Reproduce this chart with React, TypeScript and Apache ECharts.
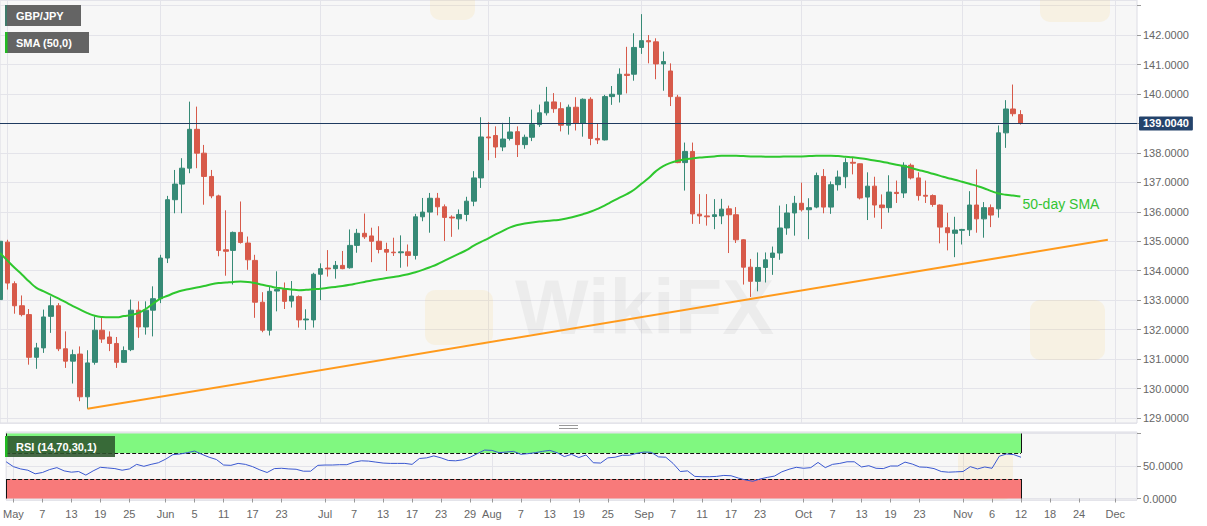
import React, { useEffect, useRef } from 'react';
import * as echarts from 'echarts';

// ---- axis / category definitions ----
const START_DATE = '2020-04-30';
const END_DATE = '2020-12-04';

const TICK_DATES = ['2020-05-01','2020-05-07','2020-05-13','2020-05-19','2020-05-25','2020-06-01','2020-06-05','2020-06-11','2020-06-17','2020-06-23','2020-07-01','2020-07-07','2020-07-13','2020-07-17','2020-07-23','2020-07-29','2020-08-03','2020-08-07','2020-08-13','2020-08-19','2020-08-25','2020-09-01','2020-09-07','2020-09-11','2020-09-17','2020-09-23','2020-10-01','2020-10-07','2020-10-13','2020-10-19','2020-10-23','2020-11-02','2020-11-06','2020-11-12','2020-11-18','2020-11-24','2020-12-01'];
const TICK_LABELS = ['May','7','13','19','25','Jun','5','11','17','23','Jul','7','13','17','23','29','Aug','7','13','19','25','Sep','7','11','17','23','Oct','7','13','19','23','Nov','6','12','18','24','Dec'];
const MONTH_LINES = ['2020-05-01','2020-06-01','2020-07-01','2020-08-03','2020-09-01','2020-10-01','2020-11-02','2020-12-01'];

// ---- GBP/JPY daily candles from 2020-04-30: [open, close, low, high] ----
const OHLC: number[][] = [
  [133.02,135.00,132.68,135.45],[134.97,133.58,133.36,135.05],[133.56,132.81,132.54,133.64],[132.81,132.51,132.45,133.16],
  [132.51,131.06,130.81,132.70],[131.06,131.38,130.67,131.55],[131.38,132.43,131.21,132.68],[132.45,132.81,131.89,133.13],
  [132.81,131.35,131.27,132.90],[131.35,130.93,130.70,131.94],[130.93,131.15,130.17,131.32],[131.17,129.72,129.57,131.43],
  [129.72,130.87,129.31,131.30],[130.89,131.98,130.81,132.45],[131.98,131.68,131.55,132.40],[131.75,131.53,131.27,131.94],
  [131.53,130.89,130.70,131.75],[130.89,131.29,130.87,131.43],[131.32,132.66,131.27,133.02],[132.66,132.09,131.72,132.96],
  [132.09,132.66,131.83,132.96],[132.66,133.05,131.77,133.47],[133.05,134.43,132.90,134.54],[134.43,136.41,134.26,136.54],
  [136.41,136.94,135.95,137.42],[136.94,137.48,135.95,137.82],[137.48,138.80,137.31,139.74],[138.80,137.99,137.48,139.57],
  [137.99,137.20,136.24,138.27],[137.20,136.54,136.46,137.42],[136.54,134.69,134.49,136.58],[134.71,134.66,133.83,136.05],
  [134.69,135.30,133.53,135.33],[135.30,134.96,134.92,136.35],[134.94,134.37,134.03,135.16],[134.35,132.93,132.40,134.54],
  [132.93,131.98,131.91,133.27],[131.98,133.30,131.80,133.47],[133.31,133.36,132.62,133.98],[133.36,132.96,132.70,133.60],
  [132.97,133.14,132.75,133.65],[133.12,132.33,132.07,133.16],[132.33,132.36,131.99,132.69],[132.33,133.88,132.07,133.93],
  [133.88,134.07,133.00,134.25],[134.09,134.06,133.80,134.70],[134.07,134.18,133.73,134.33],[134.18,134.07,134.05,134.67],
  [134.10,134.86,134.07,135.40],[134.86,135.27,134.61,135.42],[135.27,135.15,135.08,135.94],[135.18,135.00,134.29,135.46],
  [135.00,134.72,134.59,135.51],[134.72,134.63,133.99,134.95],[134.63,134.61,134.50,135.12],[134.61,134.64,134.10,135.20],
  [134.64,134.52,134.14,134.89],[134.52,135.83,134.38,135.93],[135.83,135.99,135.68,136.47],[135.99,136.46,135.29,136.64],
  [136.46,136.17,135.88,136.64],[136.17,135.81,135.01,136.25],[135.82,135.79,135.15,135.88],[135.76,135.91,135.40,136.08],
  [135.91,136.36,135.68,136.51],[136.36,137.15,136.19,137.38],[137.15,138.54,136.81,139.21],[138.54,138.51,137.75,139.04],
  [138.59,138.20,137.83,138.90],[138.20,138.47,138.06,139.02],[138.49,138.71,138.42,139.22],[138.72,138.28,137.86,138.90],
  [138.28,138.53,138.14,138.62],[138.53,138.96,138.40,139.47],[138.96,139.36,138.88,139.64],[139.36,139.73,139.27,140.24],
  [139.73,139.50,139.36,140.03],[139.50,138.94,138.73,139.72],[138.94,139.55,138.62,139.64],[139.55,139.00,138.76,139.89],
  [139.00,139.82,138.55,139.85],[139.82,138.49,138.26,139.89],[138.49,138.44,138.30,138.98],[138.44,139.91,138.42,139.97],
  [139.91,139.99,139.63,140.27],[139.99,140.67,139.71,140.87],[140.67,140.63,140.02,141.60],[140.67,141.58,140.45,142.06],
  [141.58,141.81,141.36,142.71],[141.81,141.77,141.04,142.00],[141.77,141.02,140.50,141.89],[141.02,141.10,140.11,141.44],
  [140.78,139.91,139.59,141.04],[139.89,137.67,137.65,139.97],[137.67,138.05,136.72,138.35],[138.05,135.93,135.59,138.35],
  [135.92,135.86,135.59,136.60],[135.86,135.83,135.53,136.60],[135.84,135.90,135.41,136.43],[135.86,136.09,135.58,136.44],
  [136.10,135.90,134.60,136.21],[135.90,135.05,134.94,136.16],[135.05,134.12,133.53,135.07],[134.12,133.64,133.11,134.40],
  [133.64,134.11,133.30,134.62],[134.11,134.37,133.60,134.62],[134.45,134.60,133.86,134.82],[134.60,135.45,134.37,136.21],
  [135.45,135.96,135.22,136.26],[135.96,136.29,135.19,136.54],[136.29,136.07,136.01,136.99],[136.07,136.14,135.07,136.46],
  [136.16,137.23,136.12,137.33],[137.20,136.16,135.95,137.45],[136.16,136.92,135.93,137.03],[136.92,137.18,136.72,137.40],
  [137.19,137.67,136.80,137.82],[137.68,137.65,137.27,137.86],[137.63,136.47,136.42,137.64],[136.50,136.87,135.72,137.34],
  [136.87,136.23,135.80,137.19],[136.23,136.14,135.42,136.59],[136.14,136.67,135.97,137.24],[136.66,136.62,136.30,137.06],
  [136.64,137.58,136.47,137.68],[137.58,137.15,137.10,137.64],[137.15,136.55,136.38,137.34],[136.56,136.53,136.30,137.06],
  [136.55,136.25,136.17,136.59],[136.23,135.48,134.93,136.25],[135.46,135.29,134.69,135.97],[135.27,135.38,134.46,135.83],
  [135.37,135.40,134.89,135.42],[135.39,136.23,135.18,136.70],[136.23,135.76,135.29,137.44],[135.76,136.14,135.12,136.33],
  [136.14,135.89,135.48,136.25],[136.10,138.68,135.80,138.93],[138.68,139.49,138.17,139.79],[139.49,139.33,139.24,140.32],
  [139.30,139.004,138.96,139.45]
];

const LAST_PRICE = 139.004;

// ---- 50-day SMA ----
const SMA50 = [
  134.60,134.35,134.10,133.87,133.63,133.42,133.30,133.18,133.06,132.93,132.80,132.68,132.56,132.47,132.43,132.42,
  132.42,132.46,132.50,132.57,132.70,132.88,133.05,133.15,133.25,133.33,133.38,133.43,133.48,133.54,133.58,133.60,
  133.62,133.63,133.62,133.58,133.52,133.47,133.42,133.39,133.36,133.34,133.35,133.37,133.39,133.42,133.45,133.48,
  133.52,133.57,133.62,133.67,133.71,133.75,133.79,133.83,133.88,133.95,134.03,134.12,134.22,134.34,134.46,134.58,
  134.70,134.85,134.98,135.10,135.23,135.35,135.47,135.55,135.60,135.64,135.67,135.69,135.71,135.74,135.79,135.85,
  135.92,136.00,136.10,136.22,136.35,136.48,136.60,136.75,136.95,137.15,137.38,137.55,137.66,137.73,137.78,137.81,
  137.84,137.86,137.88,137.90,137.90,137.90,137.89,137.88,137.88,137.87,137.87,137.87,137.88,137.88,137.88,137.89,
  137.90,137.90,137.90,137.89,137.87,137.85,137.82,137.78,137.74,137.70,137.65,137.60,137.55,137.49,137.42,137.36,
  137.29,137.22,137.15,137.09,137.02,136.95,136.88,136.80,136.70,136.62,136.58,136.55,136.52
];

// ---- RSI(14) ----
const RSI14 = [
  56.5,49,45.5,43.5,38,40,44.5,47.5,42.5,40.5,41.5,36,42.5,48,47,46,
  43.5,45.5,52.5,49.5,52.5,55,60.5,67.5,68.5,70.5,73,68,63.5,60,51.5,51,
  54,52.5,49,44,40,46,46.5,45.5,45,42,42,51,51.5,51.5,52,52,
  56,58,57.5,56,54.5,54,54,54,52.5,61.5,62.5,65.5,62.5,58.5,58,59.5,
  63.5,69,74.5,74,70.5,71.5,72.5,68,69,70.5,72.5,74,70.5,64.5,68,63,
  67,55,54.5,62.5,63.5,66.5,66.5,69.5,71.5,71,64,63.5,54,41.5,42.5,34,
  33.5,33.5,34,35.5,35,31.5,28.5,26.5,30,32.5,34.5,41,45,48,46.5,47.5,
  55.5,47.5,52.5,54,56.5,56.5,48.5,50.5,46.5,46,50,50,56,53,48.5,48,
  46,41.5,40.5,41,41.5,49,45.5,48.5,46.5,65,68.5,67.5,63.5
];
const RSI_UPPER = 70;
const RSI_LOWER = 30;

// ---- ascending support trend line: [date, price] ----
const TREND = [['2020-05-18', 129.31], ['2020-11-30', 135.05]];

function weekdayCategories(start: string, end: string): string[] {
  const out: string[] = [];
  const d = new Date(start + 'T00:00:00Z');
  const e = new Date(end + 'T00:00:00Z');
  while (d.getTime() <= e.getTime()) {
    const wd = d.getUTCDay();
    if (wd !== 0 && wd !== 6) out.push(d.toISOString().slice(0, 10));
    d.setUTCDate(d.getUTCDate() + 1);
  }
  return out;
}

const FONT = '"Liberation Sans", Arial, sans-serif';

export default function App() {
  const ref = useRef<HTMLDivElement>(null);
  useEffect(() => {
    if (!ref.current) return;
    const chart = echarts.init(ref.current, null, { renderer: 'svg' });
    const cats = weekdayCategories(START_DATE, END_DATE);
    const lastDate = cats[OHLC.length - 1];
    const firstDate = cats[0];
    const isTick = (_i: number, v: string) => TICK_DATES.indexOf(v) >= 0;
    const isMonth = (_i: number, v: string) => MONTH_LINES.indexOf(v) >= 0;
    const gridLine = { show: true, interval: isMonth, lineStyle: { color: '#e4e4ea', width: 1 } };

    const wm = (x: number, y: number) => ({
      type: 'text', z: 1, silent: true,
      style: { text: 'WikiFX', x, y, fill: 'rgba(0,0,0,0.045)', font: 'bold 78px ' + FONT },
    });
    const logo = (x: number, y: number, w: number, h: number) => ({
      type: 'rect', z: 1, silent: true,
      shape: { x, y, width: w, height: h, r: 10 },
      style: { fill: 'rgba(250,200,90,0.13)' },
    });

    const option: any = {
      animation: false,
      backgroundColor: '#ffffff',
      textStyle: { fontFamily: FONT },
      grid: [
        { left: 0, top: 0, width: 1137, height: 423, show: true, backgroundColor: '#f7f7f7', borderColor: '#dcdce4', borderWidth: 1 },
        { left: 0, top: 432, width: 1137, height: 68, show: true, backgroundColor: '#f7f7f7', borderColor: '#dcdce4', borderWidth: 1 },
      ],
      xAxis: [
        {
          type: 'category', gridIndex: 0, data: cats, boundaryGap: false,
          axisLine: { show: false }, axisTick: { show: false }, axisLabel: { show: false },
          splitLine: gridLine,
        },
        {
          type: 'category', gridIndex: 1, data: cats, boundaryGap: false,
          axisLine: { show: false },
          axisTick: { show: true, interval: isTick, length: 4, lineStyle: { color: '#999' } },
          axisLabel: {
            show: true, interval: isTick, color: '#666', fontSize: 11, margin: 8,
            formatter: (v: string) => { const k = TICK_DATES.indexOf(v); return k >= 0 ? TICK_LABELS[k] : ''; },
          },
          splitLine: gridLine,
        },
      ],
      yAxis: [
        {
          type: 'value', gridIndex: 0, position: 'right', min: 128.83, max: 143.19, splitNumber: 14, scale: true,
          axisLine: { show: false },
          axisTick: { show: true, length: 4, lineStyle: { color: '#999' } },
          axisLabel: {
            color: '#666', fontSize: 11, margin: 6, showMinLabel: false, showMaxLabel: false,
            formatter: (v: number) => (Math.abs(v - 139) < 1e-6 || v > 142.5 ? '' : v.toFixed(4)),
          },
          splitLine: { show: true, lineStyle: { color: '#e4e4ea' } },
        },
        {
          type: 'value', gridIndex: 1, position: 'right', min: -2.3, max: 102.3, splitNumber: 2,
          axisLine: { show: false },
          axisTick: { show: true, length: 4, lineStyle: { color: '#999' } },
          axisLabel: {
            color: '#666', fontSize: 11, margin: 6, showMinLabel: false, showMaxLabel: false,
            formatter: (v: number) => (v === 0 || v === 50 ? v.toFixed(4) : ''),
          },
          splitLine: { show: true, lineStyle: { color: '#e4e4ea' } },
        },
      ],
      series: [
        {
          name: 'GBP/JPY', type: 'candlestick', xAxisIndex: 0, yAxisIndex: 0, data: OHLC, barWidth: 5,
          itemStyle: { color: '#368a76', color0: '#d75a4a', borderColor: '#368a76', borderColor0: '#d75a4a', borderWidth: 1 },
          markLine: {
            symbol: 'none', silent: true, animation: false,
            lineStyle: { color: '#1f3b60', width: 1, type: 'solid' },
            label: {
              show: true, position: 'end', distance: 2, formatter: LAST_PRICE.toFixed(4),
              color: '#fff', fontWeight: 'bold', fontSize: 11, backgroundColor: '#24436b',
              padding: [2, 4, 1, 4], borderRadius: 1,
            },
            data: [{ yAxis: LAST_PRICE }],
          },
          z: 3,
        },
        {
          name: 'SMA (50,0)', type: 'line', xAxisIndex: 0, yAxisIndex: 0, data: SMA50,
          showSymbol: false, smooth: true, lineStyle: { color: '#2ec72e', width: 2 },
          endLabel: { show: true, formatter: '50-day SMA', color: '#33c433', fontSize: 14, distance: 2, offset: [0, 8] },
          z: 4,
        },
        {
          name: 'trend', type: 'line', xAxisIndex: 0, yAxisIndex: 0, data: TREND,
          showSymbol: false, lineStyle: { color: '#ff9a1c', width: 2 }, z: 4,
        },
        {
          name: 'RSI', type: 'line', xAxisIndex: 1, yAxisIndex: 1, data: RSI14,
          showSymbol: false, lineStyle: { color: '#3a58d0', width: 1 }, z: 5,
          markArea: {
            silent: true,
            data: [
              [{ xAxis: firstDate, yAxis: RSI_UPPER, itemStyle: { color: '#80f880' } }, { xAxis: lastDate, yAxis: 100 }],
              [{ xAxis: firstDate, yAxis: 0, itemStyle: { color: '#f87a7a' } }, { xAxis: lastDate, yAxis: RSI_LOWER }],
            ],
          },
          markLine: {
            symbol: 'none', silent: true, label: { show: false },
            lineStyle: { color: '#111', width: 1, type: 'solid' },
            data: [
              [{ coord: [firstDate, RSI_UPPER], lineStyle: { type: 'dashed', color: '#111' } }, { coord: [lastDate, RSI_UPPER] }],
              [{ coord: [firstDate, RSI_LOWER], lineStyle: { type: 'dashed', color: '#111' } }, { coord: [lastDate, RSI_LOWER] }],
              [{ coord: [lastDate, RSI_UPPER] }, { coord: [lastDate, 100] }],
              [{ coord: [lastDate, 0] }, { coord: [lastDate, RSI_LOWER] }],
              [{ coord: [firstDate, RSI_UPPER] }, { coord: [firstDate, 100] }],
              [{ coord: [firstDate, 0] }, { coord: [firstDate, RSI_LOWER] }],
            ],
          },
        },
      ],
      graphic: [
        wm(515, 268),
        logo(425, 290, 68, 55), logo(1030, 300, 75, 60), logo(430, -30, 45, 50), logo(1040, -30, 70, 52), logo(958, 445, 55, 55),
        // legend boxes
        { type: 'rect', z: 100, shape: { x: 5, y: 5, width: 76, height: 21 }, style: { fill: '#646464' } },
        { type: 'rect', z: 101, shape: { x: 5, y: 5, width: 2, height: 21 }, style: { fill: '#3f7a6a' } },
        { type: 'text', z: 102, style: { text: 'GBP/JPY', x: 16, y: 15.5, fill: '#fff', font: 'bold 11px ' + FONT, verticalAlign: 'middle' } },
        { type: 'rect', z: 100, shape: { x: 5, y: 32, width: 84, height: 21 }, style: { fill: '#646464' } },
        { type: 'rect', z: 101, shape: { x: 5, y: 32, width: 2.5, height: 21 }, style: { fill: '#22bb22' } },
        { type: 'text', z: 102, style: { text: 'SMA (50,0)', x: 16, y: 42.5, fill: '#fff', font: 'bold 11px ' + FONT, verticalAlign: 'middle' } },
        { type: 'rect', z: 100, shape: { x: 5, y: 436, width: 110, height: 21 }, style: { fill: 'rgba(45,85,45,0.88)' } },
        { type: 'rect', z: 101, shape: { x: 5, y: 436, width: 2.5, height: 21 }, style: { fill: '#22bb22' } },
        { type: 'text', z: 102, style: { text: 'RSI (14,70,30,1)', x: 16, y: 446.5, fill: '#fff', font: 'bold 11px ' + FONT, verticalAlign: 'middle' } },
        // panel resize handle
        { type: 'line', z: 100, shape: { x1: 559, y1: 425.5, x2: 578, y2: 425.5 }, style: { stroke: '#999', lineWidth: 1 } },
        { type: 'line', z: 100, shape: { x1: 559, y1: 428.5, x2: 578, y2: 428.5 }, style: { stroke: '#999', lineWidth: 1 } },
      ],
    };
    chart.setOption(option);
    return () => chart.dispose();
  }, []);
  return <div ref={ref} style={{ position: 'fixed', left: 0, top: 0, width: 1207, height: 526, background: '#fff' }} />;
}
